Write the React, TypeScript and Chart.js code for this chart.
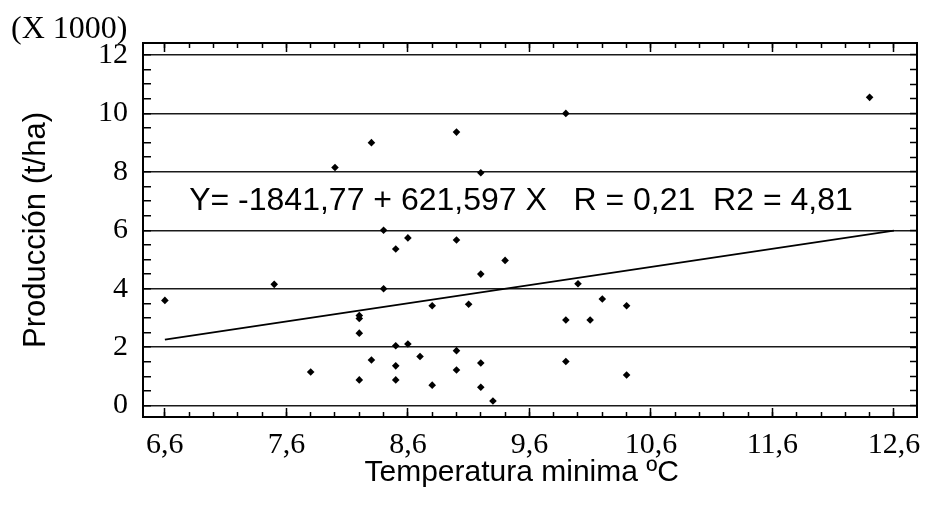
import React, { useEffect, useRef } from 'react';
import { Chart, registerables } from 'chart.js';

Chart.register(...registerables);

// Observations: minimum temperature (ºC) vs. yield (thousands of t/ha)
const tempMin = [
  6.6, 7.5, 7.8, 8.0, 8.2, 8.2, 8.2, 8.2, 8.3, 8.3, 8.4, 8.4, 8.5, 8.5, 8.5, 8.5,
  8.6, 8.6, 8.7, 8.8, 8.8, 9.0, 9.0, 9.0, 9.0, 9.1, 9.2, 9.2, 9.2, 9.2, 9.3, 9.4,
  9.9, 9.9, 9.9, 10.0, 10.1, 10.2, 10.4, 10.4, 12.4,
];
const produccion = [
  3.6, 4.15, 1.15, 8.15, 3.08, 2.98, 2.48, 0.88, 9.0, 1.56, 6.0, 4.0, 5.36, 2.05, 1.36, 0.88,
  5.74, 2.11, 1.68, 3.42, 0.7, 9.36, 5.67, 1.88, 1.22, 3.47, 7.97, 4.5, 1.46, 0.63, 0.16, 4.97,
  10.0, 2.93, 1.51, 4.17, 2.93, 3.65, 3.42, 1.05, 10.55,
];

// Fitted regression (Y in t/ha, X in ºC)
const INTERCEPT = -1841.77;
const SLOPE = 621.597;
const SCALE_FACTOR = 1000;
const fitRange = [6.6, 12.6];
const EQUATION_TEXT = 'Y= -1841,77 + 621,597 X   R = 0,21  R2 = 4,81';
const SCALE_NOTE = '(X 1000)';

// Axes
const xMajorTicks = [6.6, 7.6, 8.6, 9.6, 10.6, 11.6, 12.6];
const xTickLabels = ['6,6', '7,6', '8,6', '9,6', '10,6', '11,6', '12,6'];
const yMajorTicks = [0, 2, 4, 6, 8, 10, 12];
const yTickLabels = ['0', '2', '4', '6', '8', '10', '12'];
const X_MIN = 6.42;
const X_MAX = 12.79;
const Y_MIN = -0.39;
const Y_MAX = 12.41;

const xMinorTicks = Array.from({ length: 31 }, (_, k) => Math.round((6.6 + k * 0.2) * 10) / 10);
const yAllTicks = Array.from({ length: 25 }, (_, k) => k / 2);

const serif = "'Liberation Serif', 'Times New Roman', serif";
const sans = "'Liberation Sans', Arial, sans-serif";

const setTicks = (values: number[]) => (scale: any) => {
  scale.ticks = values.map((v) => ({ value: v }));
};
const fixSize = (w: number | null, h: number | null) => (scale: any) => {
  if (w !== null) scale.width = w;
  if (h !== null) scale.height = h;
  scale.paddingLeft = 0;
  scale.paddingRight = 0;
  scale.paddingTop = 0;
  scale.paddingBottom = 0;
};

const textPlugin = {
  id: 'chartText',
  afterDatasetsDraw(chart: any) {
    const { ctx, scales } = chart;
    ctx.save();
    ctx.fillStyle = '#000';
    ctx.textAlign = 'left';
    ctx.textBaseline = 'alphabetic';
    ctx.font = `32px ${sans}`;
    ctx.fillText(EQUATION_TEXT, scales.x.getPixelForValue(6.8), scales.y.getPixelForValue(6.7));
    ctx.font = `32px ${serif}`;
    ctx.fillText(SCALE_NOTE, 11, 38);
    ctx.restore();
  },
};

const hiddenTicks = { display: false, autoSkip: false };

export default function App() {
  const canvasRef = useRef<HTMLCanvasElement | null>(null);

  useEffect(() => {
    const canvas = canvasRef.current;
    if (!canvas) return;

    const points = tempMin.map((x, i) => ({ x, y: produccion[i] }));
    const fitLine = fitRange.map((x) => ({ x, y: (INTERCEPT + SLOPE * x) / SCALE_FACTOR }));

    const chart = new Chart(canvas, {
      type: 'scatter',
      data: {
        datasets: [
          {
            type: 'line',
            data: fitLine,
            borderColor: '#000',
            borderWidth: 1.8,
            pointRadius: 0,
            fill: false,
          } as any,
          {
            data: points,
            backgroundColor: '#000',
            borderWidth: 0,
            pointStyle: 'rectRot',
            pointRadius: 3.8,
          },
        ],
      },
      options: {
        animation: false,
        responsive: false,
        devicePixelRatio: 1,
        layout: { padding: { left: 0, right: 9, top: 43, bottom: 0 } },
        plugins: { legend: { display: false }, tooltip: { enabled: false } },
        scales: {
          x: {
            type: 'linear',
            position: 'bottom',
            weight: 1,
            min: X_MIN,
            max: X_MAX,
            afterBuildTicks: setTicks(xMajorTicks),
            afterFit: fixSize(null, 89),
            grid: { drawOnChartArea: false, tickLength: -9, tickWidth: 1.5, tickColor: '#000' },
            border: { display: true, color: '#000', width: 2 },
            ticks: {
              autoSkip: false,
              maxRotation: 0,
              padding: 19,
              color: '#000',
              font: { family: serif, size: 30 },
              callback: (_v: any, i: number) => xTickLabels[i],
            },
            title: {
              display: true,
              text: 'Temperatura minima ºC  ',
              color: '#000',
              font: { family: sans, size: 30 },
              padding: { top: 0, bottom: 15 },
            },
          },
          xMinor: {
            type: 'linear',
            axis: 'x',
            position: 'bottom',
            weight: 0,
            min: X_MIN,
            max: X_MAX,
            afterBuildTicks: setTicks(xMinorTicks),
            afterFit: fixSize(null, 0),
            grid: { drawOnChartArea: false, tickLength: -5, tickWidth: 1.5, tickColor: '#000' },
            border: { display: false },
            ticks: hiddenTicks,
          },
          xTop: {
            type: 'linear',
            axis: 'x',
            position: 'top',
            weight: 1,
            min: X_MIN,
            max: X_MAX,
            afterBuildTicks: setTicks(xMajorTicks),
            afterFit: fixSize(null, 0),
            grid: { drawOnChartArea: false, tickLength: -9, tickWidth: 1.5, tickColor: '#000' },
            border: { display: true, color: '#000', width: 2 },
            ticks: hiddenTicks,
          },
          xTopMinor: {
            type: 'linear',
            axis: 'x',
            position: 'top',
            weight: 0,
            min: X_MIN,
            max: X_MAX,
            afterBuildTicks: setTicks(xMinorTicks),
            afterFit: fixSize(null, 0),
            grid: { drawOnChartArea: false, tickLength: -5, tickWidth: 1.5, tickColor: '#000' },
            border: { display: false },
            ticks: hiddenTicks,
          },
          y: {
            type: 'linear',
            position: 'left',
            min: Y_MIN,
            max: Y_MAX,
            afterBuildTicks: setTicks(yAllTicks),
            afterFit: fixSize(143, null),
            grid: {
              color: (c: any) =>
                c.tick && yMajorTicks.includes(c.tick.value) ? '#1a1a1a' : 'rgba(0,0,0,0)',
              lineWidth: 1.5,
              tickLength: -8,
              tickWidth: 1.5,
              tickColor: '#000',
            },
            border: { display: true, color: '#000', width: 2 },
            ticks: {
              autoSkip: false,
              padding: 23,
              color: '#000',
              font: { family: serif, size: 30 },
              callback: (v: any) => {
                const i = yMajorTicks.indexOf(Number(v));
                return i >= 0 ? yTickLabels[i] : '';
              },
            },
            title: {
              display: true,
              text: 'Producción (t/ha)',
              color: '#000',
              font: { family: sans, size: 31 },
              padding: { top: 18, bottom: 0 },
            },
          },
          yRight: {
            type: 'linear',
            axis: 'y',
            position: 'right',
            min: Y_MIN,
            max: Y_MAX,
            afterBuildTicks: setTicks(yAllTicks),
            afterFit: fixSize(0, null),
            grid: { drawOnChartArea: false, tickLength: -7, tickWidth: 1.5, tickColor: '#000' },
            border: { display: true, color: '#000', width: 2 },
            ticks: hiddenTicks,
          },
        },
      } as any,
      plugins: [textPlugin],
    });

    return () => chart.destroy();
  }, []);

  return (
    <div style={{ position: 'fixed', left: 0, top: 0, width: 926, height: 506, background: '#fff' }}>
      <canvas ref={canvasRef} width={926} height={506} style={{ display: 'block' }} />
    </div>
  );
}
